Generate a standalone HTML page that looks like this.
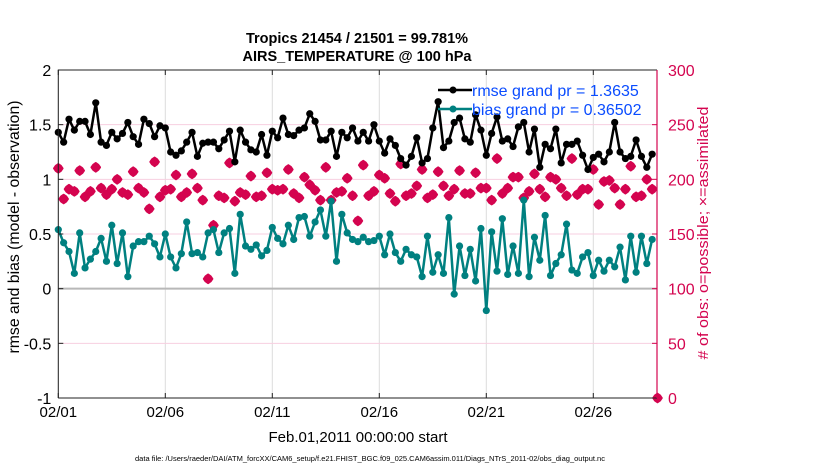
<!DOCTYPE html>
<html><head><meta charset="utf-8"><style>
html,body{margin:0;padding:0;background:#fff;}
svg{display:block;font-family:"Liberation Sans",Arial,sans-serif;}
</style></head><body>
<svg id="chart" width="830" height="470" viewBox="0 0 830 470" xmlns="http://www.w3.org/2000/svg">
<text x="357" y="43" text-anchor="middle" font-size="14.5" font-weight="bold">Tropics 21454 / 21501 = 99.781%</text>
<text x="357" y="61" text-anchor="middle" font-size="14.5" font-weight="bold">AIRS_TEMPERATURE @ 100 hPa</text>
<g id="grid"></g>
<g id="marks"></g>
<g id="axes"></g>
<text transform="translate(19,227) rotate(-90)" text-anchor="middle" font-size="15.5" textLength="253" lengthAdjust="spacingAndGlyphs">rmse and bias (model - observation)</text>
<text transform="translate(708,233) rotate(-90)" text-anchor="middle" font-size="14.5" fill="#d4044f" textLength="253" lengthAdjust="spacingAndGlyphs"># of obs: o=possible; ×=assimilated</text>
<text x="358" y="442" text-anchor="middle" font-size="15">Feb.01,2011 00:00:00 start</text>
<text x="370" y="461" text-anchor="middle" font-size="7.5">data file: /Users/raeder/DAI/ATM_forcXX/CAM6_setup/f.e21.FHIST_BGC.f09_025.CAM6assim.011/Diags_NTrS_2011-02/obs_diag_output.nc</text>
<g>
<line x1="438" y1="90" x2="472" y2="90" stroke="#000" stroke-width="2.5"/>
<circle cx="453" cy="90" r="3.5" fill="#000"/>
<text x="472" y="96" font-size="16" fill="#0a4cff">rmse grand pr = 1.3635</text>
<line x1="438" y1="109" x2="472" y2="109" stroke="#008080" stroke-width="2.5"/>
<circle cx="453" cy="109" r="3.5" fill="#008080"/>
<text x="472" y="115" font-size="16" fill="#0a4cff">bias grand pr = 0.36502</text>
</g>
</svg>
<script>
const rmse=[1.43,1.34,1.55,1.45,1.53,1.53,1.41,1.70,1.34,1.31,1.43,1.37,1.42,1.52,1.39,1.32,1.55,1.51,1.39,1.49,1.47,1.25,1.22,1.26,1.34,1.43,1.21,1.33,1.34,
1.34,1.28,1.36,1.44,1.16,1.45,1.34,1.27,1.25,1.41,1.22,1.44,1.38,1.56,1.41,1.40,1.45,1.47,1.60,1.53,1.36,1.36,1.44,1.21,1.43,1.38,1.47,1.35,
1.43,1.35,1.50,1.35,1.24,1.37,1.31,1.19,1.13,1.21,1.38,1.15,1.19,1.47,1.71,1.29,1.35,1.52,1.56,1.37,1.34,1.59,1.45,1.22,1.42,1.57,1.35,1.37,
1.30,1.48,1.52,1.25,1.46,1.11,1.32,1.28,1.46,1.15,1.32,1.32,1.35,1.22,1.09,1.20,1.23,1.16,1.25,1.52,1.25,1.19,1.21,1.36,1.21,1.11,1.23];
const bias=[0.54,0.42,0.34,0.14,0.51,0.19,0.27,0.34,0.46,0.25,0.58,0.23,0.51,0.11,0.39,0.43,0.43,0.48,0.41,0.29,0.50,0.29,0.19,0.32,0.61,0.32,0.33,0.29,0.51,
0.54,0.33,0.51,0.55,0.14,0.68,0.39,0.36,0.40,0.30,0.35,0.56,0.46,0.41,0.58,0.45,0.65,0.66,0.48,0.61,0.72,0.48,0.80,0.25,0.68,0.51,0.45,0.43,
0.47,0.43,0.44,0.48,0.31,0.50,0.33,0.25,0.36,0.31,0.29,0.11,0.48,0.15,0.31,0.14,0.65,-0.05,0.39,0.12,0.36,0.07,0.55,-0.20,0.52,0.16,0.64,0.13,
0.39,0.14,0.81,0.11,0.47,0.26,0.67,0.12,0.23,0.31,0.59,0.17,0.14,0.29,0.33,0.12,0.26,0.16,0.26,0.20,0.38,0.08,0.48,0.15,0.48,0.23,0.45];
const nobs=[210,182,191,189,208,184,189,211,192,186,191,200,188,186,207,192,188,173,216,184,190,191,204,184,188,205,192,181,109,
158,185,183,215,180,188,186,203,184,185,206,191,190,191,209,187,183,202,195,190,181,211,181,188,189,201,185,162,
213,185,189,204,201,187,180,214,185,187,194,209,183,186,207,194,185,191,208,187,187,206,192,192,181,219,187,192,
202,202,183,189,205,191,184,202,200,192,185,219,186,191,191,209,177,198,199,192,177,191,212,184,185,200,191,0];
const xTickLabels=["02/01","02/06","02/11","02/16","02/21","02/26"];
const xTickDays=[0,5,10,15,20,25];
const yLeftTicks=[-1,-0.5,0,0.5,1,1.5,2];
const yRightTicks=[0,50,100,150,200,250,300];
const stepsPerDay=4;

const NS="http://www.w3.org/2000/svg";
const L=58.3,R=657,T=70,B=398,DAYPX=21.4;
const X=d=>L+d*DAYPX;
const YL=v=>B-(v+1)/3*(B-T);
const YR=v=>B-v/300*(B-T);
const MAG="#d4044f";
function mk(tag,attrs,parent){const e=document.createElementNS(NS,tag);for(const k in attrs)e.setAttribute(k,attrs[k]);parent.appendChild(e);return e;}
const grid=document.getElementById('grid'),marks=document.getElementById('marks'),axes=document.getElementById('axes');

xTickDays.forEach((d,i)=>{
 const g=mk('line',{x1:X(d),x2:X(d),y1:T,y2:B,stroke:'#dcdcdc','stroke-width':1},grid);
 
 
 const t=mk('line',{x1:X(d),x2:X(d),y1:B,y2:B-5,stroke:'#222','stroke-width':1},axes);
 
 
 const tt=mk('line',{x1:X(d),x2:X(d),y1:T,y2:T+5,stroke:'#222','stroke-width':1},axes);
 
 
 const lb=mk('text',{x:X(d),y:B+19,'text-anchor':'middle','font-size':15},axes);
 lb.textContent=xTickLabels[i];
 
 
});
yRightTicks.forEach(v=>{
 if(v>0&&v<300){const g=mk('line',{x1:L,x2:R,y1:YR(v),y2:YR(v),stroke:'#f7cfe0','stroke-width':1},grid);
 
 }
 const t=mk('line',{x1:R,x2:R-5,y1:YR(v),y2:YR(v),stroke:MAG,'stroke-width':1},axes);
 
 
 const lb=mk('text',{x:R+11,y:YR(v)+6,'font-size':16,fill:MAG},axes);
 lb.textContent=String(v);
 
 
});
const zl=mk('line',{x1:L,x2:R,y1:YL(0),y2:YL(0),stroke:'#b8b8b8','stroke-width':2},grid);


yLeftTicks.forEach(v=>{
 const t=mk('line',{x1:L,x2:L+5,y1:YL(v),y2:YL(v),stroke:'#222','stroke-width':1},axes);
 
 
 const lb=mk('text',{x:L-7,y:YL(v)+6,'text-anchor':'end','font-size':16},axes);
 lb.textContent=String(v);
 
 
});
const fr=mk('path',{d:`M${L},${B}V${T}H${R}M${L},${B}H${R}`,fill:'none',stroke:'#222','stroke-width':1},axes);


const ra=mk('line',{x1:R,x2:R,y1:T,y2:B,stroke:MAG,'stroke-width':1.2},axes);



// obs markers
nobs.forEach((n,i)=>{
 const x=X(i/stepsPerDay),y=YR(n),s=4.4,c=2.6;
 const m=mk('path',{d:`M${x},${y-s}L${x+c},${y-c}L${x+s},${y}L${x+c},${y+c}L${x},${y+s}L${x-c},${y+c}L${x-s},${y}L${x-c},${y-c}Z`,fill:MAG,stroke:MAG,'stroke-width':1.8,'stroke-linejoin':'round'},marks);
 
 
});
function series(vals,color,name){
 const d=vals.map((v,i)=>(i?'L':'M')+X(i/stepsPerDay).toFixed(1)+','+YL(v).toFixed(1)).join('');
 const p=mk('path',{d:d,fill:'none',stroke:color,'stroke-width':2.5,'stroke-linejoin':'round'},marks);
 
 
 vals.forEach((v,i)=>{
  const c=mk('circle',{cx:X(i/stepsPerDay),cy:YL(v),r:3.6,fill:color},marks);
  
  
 });
}
series(bias,'#008080','bias');
series(rmse,'#000000','rmse');
</script>
</body></html>
